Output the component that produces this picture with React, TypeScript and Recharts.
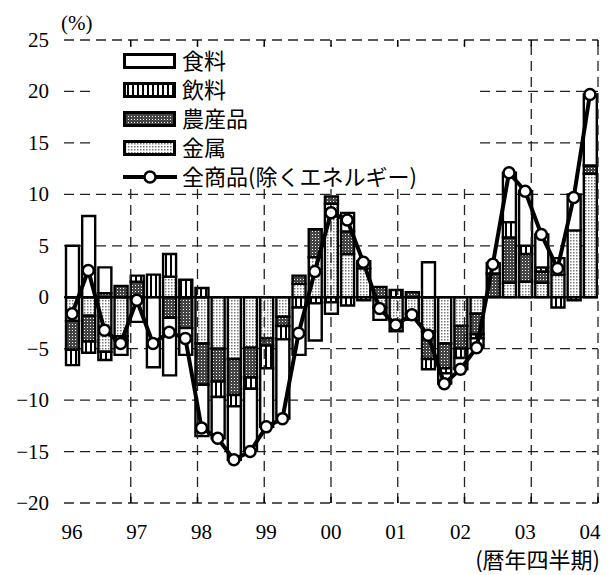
import React from "react";
import {
	Bar,
	CartesianGrid,
	ComposedChart,
	Legend,
	Line,
	ReferenceArea,
	ReferenceLine,
	XAxis,
	YAxis,
} from "recharts";

// quarterly contributions (% yoy), 96Q1 .. 04Q1
const years = ["96", "97", "98", "99", "00", "01", "02", "03", "04"];
const quarters = years
	.flatMap((y) => [1, 2, 3, 4].map((q) => `${y}Q${q}`))
	.slice(0, 33);

const metal = [
	-2.3, -1.8, -5.3, -3.8, -0.2, 0, 2.0, 0, -4.5, -5.0, -6.0, -4.9, -4.0, -1.9,
	1.3, 3.9, 9.1, 4.2, 2.8, -1.0, -2.3, -1.6, -3.3, -4.5, -2.8, -1.6, 0, 1.4,
	1.5, 1.4, 2.2, 6.5, 12.0,
];
const agri = [
	-2.8, -2.5, 0.4, 1.1, 1.5, 0, -2.0, -3.0, -4.0, -3.2, -3.5, -2.9, -0.7, -0.9,
	0.8, 2.7, 0.7, 2.2, 0, 1.0, 0, 0.5, -2.7, -2.4, -2.2, -2.0, 2.3, 4.4, 2.7,
	1.1, 0, 0, 0.8,
];
const bev = [
	-1.5, -1.1, -0.8, -0.4, 0.6, 2.2, 2.2, 1.7, 0.9, -1.5, -1.1, -1.1, -2.2, -1.3,
	-1.0, -0.6, -0.5, -0.8, -0.3, 0, 0.7, 0, -1.0, -0.5, -0.9, -0.4, 0, 1.5, 0.8,
	0.4, -1.0, -0.3, 0,
];
const food = [
	5.0, 7.9, 2.5, -1.4, -2.2, -6.8, -5.6, -2.6, -5.0, -4.0, -5.2, -6.0, -5.7,
	-7.7, -4.6, -3.6, -1.1, 1.8, 0.7, -1.2, -1.0, -0.6, 3.4, -1.0, -1.1, -0.9,
	1.0, 4.8, 5.3, 3.2, 1.6, 3.5, 6.9,
];
const total = [
	-1.6, 2.6, -3.2, -4.5, -0.3, -4.5, -3.4, -4.0, -12.7, -13.7, -15.8, -15.0,
	-12.6, -11.8, -3.5, 2.5, 8.2, 7.5, 3.4, -1.1, -2.7, -1.7, -3.7, -8.4, -7.0,
	-4.9, 3.2, 12.1, 10.3, 6.1, 2.8, 9.7, 19.7,
];

const yTicks = [-20, -15, -10, -5, 0, 5, 10, 15, 20, 25];
const yearBounds = [4, 8, 12, 16, 20, 24, 28, 32];

const names = {
	food: "食料",
	bev: "飲料",
	agri: "農産品",
	metal: "金属",
	total: "全商品(除くエネルギー)",
};

const data = quarters.map((q, i) => ({
	q,
	metal: metal[i],
	agri: agri[i],
	bev: bev[i],
	food: food[i],
	total: total[i],
}));

const SERIF = "Liberation Serif, DejaVu Serif, serif";
const CJK = "Noto Sans CJK JP, sans-serif";

function Patterns({ prefix }: { prefix: string }) {
	return (
		<defs>
			<pattern id={`${prefix}Bev`} width="5" height="5" patternUnits="userSpaceOnUse">
				<rect width="5" height="5" fill="#fff" />
				<rect x="0" width="2" height="5" fill="#000" />
			</pattern>
			<pattern id={`${prefix}Agr`} width="3" height="3" patternUnits="userSpaceOnUse">
				<rect width="3" height="3" fill="#444" />
				<rect width="1" height="1" fill="#fff" />
			</pattern>
			<pattern id={`${prefix}Met`} width="3" height="3" patternUnits="userSpaceOnUse">
				<rect width="3" height="3" fill="#fff" />
				<rect width="1.5" height="1.5" fill="#777" />
			</pattern>
		</defs>
	);
}

function XTick({ x, y, payload }: any) {
	const q: string = payload.value;
	if (!q.endsWith("Q1")) return null;
	return (
		<text x={x} y={y + 16} textAnchor="middle" fontFamily={SERIF} fontSize={21} fill="#000">
			{q.slice(0, 2)}
		</text>
	);
}

function YTick({ x, y, payload }: any) {
	return (
		<text x={x} y={y + 7} textAnchor="end" fontFamily={SERIF} fontSize={21} fill="#000">
			{String(payload.value).replace("-", "\u2212")}
		</text>
	);
}

function LegendBox() {
	const rows = [
		{ label: names.food, fill: "#fff" },
		{ label: names.bev, fill: "url(#lgBev)" },
		{ label: names.agri, fill: "url(#lgAgr)" },
		{ label: names.metal, fill: "url(#lgMet)" },
	];
	const rowY = [14, 43, 72, 101];
	const lineY = 130;
	return (
		<svg width={388} height={141} style={{ display: "block", background: "#fff", overflow: "visible" }}>
			<Patterns prefix="lg" />
			{rows.map((r, i) => (
				<g key={r.label}>
					<rect
						x={32.5}
						y={rowY[i] - 6.5}
						width={50}
						height={13}
						fill={r.fill}
						stroke="#000"
						strokeWidth={3}
					/>
					<text x={90} y={rowY[i] + 8} fontFamily={CJK} fontSize={22} fill="#000">
						{r.label}
					</text>
				</g>
			))}
			<line x1={31} x2={85} y1={lineY} y2={lineY} stroke="#000" strokeWidth={4} />
			<circle cx={58} cy={lineY} r={5.5} fill="#fff" stroke="#000" strokeWidth={2.5} />
			<text x={90} y={lineY + 8} fontFamily={CJK} fontSize={22} fill="#000">
				{names.total}
			</text>
		</svg>
	);
}

export default function App() {
	return (
		<div style={{ position: "absolute", left: 0, top: 0, width: 614, height: 575, background: "#fff" }}>
			<ComposedChart
				width={614}
				height={575}
				data={data}
				stackOffset="sign"
				barCategoryGap={0}
				margin={{ top: 40, right: 16, bottom: 0, left: 0 }}>
				<Patterns prefix="ch" />
				<CartesianGrid
					vertical={false}
					stroke="#222"
					strokeWidth={1.3}
					strokeDasharray="10 6"
				/>
				<XAxis
					dataKey="q"
					type="category"
					height={72}
					interval={0}
					tickLine={false}
					axisLine={false}
					tickSize={0}
					tickMargin={20}
					tick={<XTick />}
					label={{
						content: () => (
							<text x={600} y={568} textAnchor="end" fontFamily={CJK} fontSize={22} fill="#000">
								(暦年四半期)
							</text>
						),
					}}
				/>
				<XAxis xAxisId="n" type="number" domain={[0, 33]} height={0} hide />
				<YAxis
					type="number"
					domain={[-20, 25]}
					ticks={yTicks}
					width={64}
					tickLine={false}
					axisLine={false}
					tickSize={0}
					tickMargin={15}
					tick={<YTick />}
					label={{
						content: () => (
							<text x={61} y={30} fontFamily={SERIF} fontSize={21} fill="#000">
								(%)
							</text>
						),
					}}
				/>
				{yearBounds.map((x) => (
					<ReferenceLine
						key={`g${x}`}
						xAxisId="n"
						x={x}
						stroke="#222"
						strokeWidth={1.3}
						strokeDasharray="10 6"
					/>
				))}
				{yearBounds.map((x) => (
					<ReferenceLine
						key={`t${x}`}
						xAxisId="n"
						segment={[
							{ x, y: 25 },
							{ x, y: 24.4 },
						]}
						stroke="#000"
						strokeWidth={1.5}
					/>
				))}
				{yearBounds.map((x) => (
					<ReferenceLine
						key={`b${x}`}
						xAxisId="n"
						segment={[
							{ x, y: -20 },
							{ x, y: -19.4 },
						]}
						stroke="#000"
						strokeWidth={1.5}
					/>
				))}
				<Bar dataKey="metal" name={names.metal} stackId="a" barSize={13} fill="url(#chMet)" stroke="#000" strokeWidth={2.4} isAnimationActive={false} />
				<Bar dataKey="agri" name={names.agri} stackId="a" barSize={13} fill="url(#chAgr)" stroke="#000" strokeWidth={2.4} isAnimationActive={false} />
				<Bar dataKey="bev" name={names.bev} stackId="a" barSize={13} fill="url(#chBev)" stroke="#000" strokeWidth={2.4} isAnimationActive={false} />
				<Bar dataKey="food" name={names.food} stackId="a" barSize={13} fill="#fff" stroke="#000" strokeWidth={2.4} isAnimationActive={false} />
				<ReferenceLine y={0} stroke="#000" strokeWidth={2} />
				<Line
					type="linear"
					dataKey="total"
					name={names.total}
					stroke="#000"
					strokeWidth={4}
					dot={{ r: 5.5, fill: "#fff", stroke: "#000", strokeWidth: 2.5 }}
					isAnimationActive={false}
				/>
				<ReferenceArea
					xAxisId="n"
					x1={0}
					x2={33}
					y1={-20}
					y2={25}
					fill="none"
					fillOpacity={0}
					stroke="#000"
					strokeWidth={3}
				/>
				<Legend
					layout="vertical"
					verticalAlign="middle"
					align="center"
					content={() => <LegendBox />}
					wrapperStyle={{ position: "absolute", left: 92, top: 47, width: 388, height: 141 }}
				/>
			</ComposedChart>
		</div>
	);
}
